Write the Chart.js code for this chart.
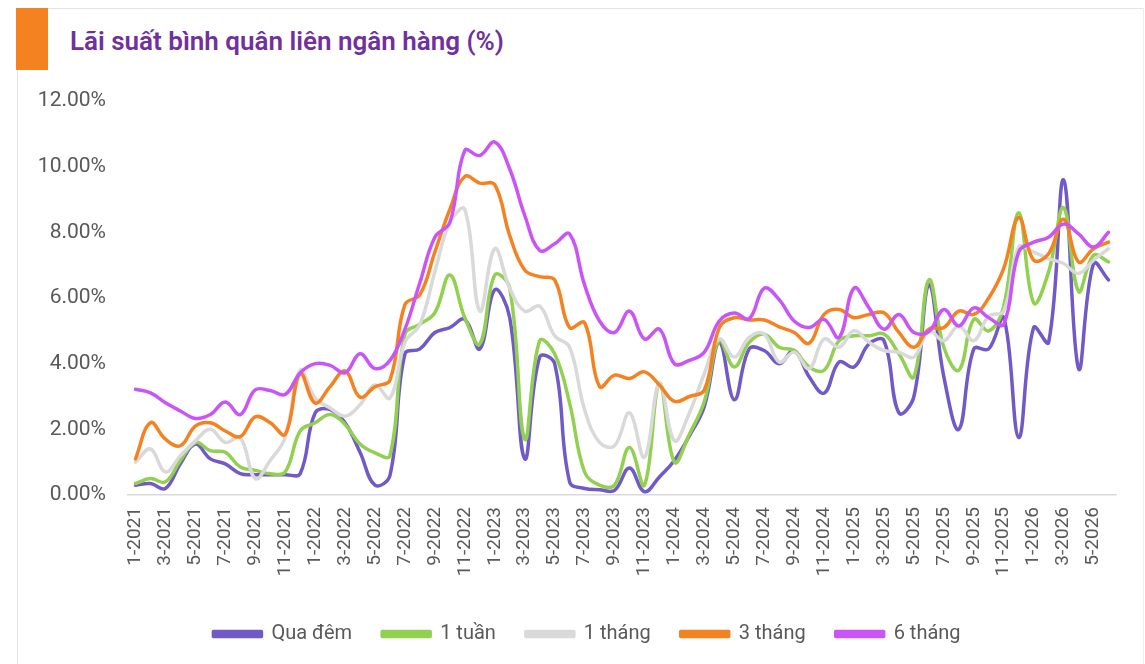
<!DOCTYPE html>
<html>
<head>
<meta charset="utf-8">
<script src="https://cdn.jsdelivr.net/npm/chart.js@4/dist/chart.umd.min.js"></script>
<style>
    body { margin: 0; background: #fff; width: 1145px; height: 664px; overflow: hidden; position: relative; font-family: Roboto, sans-serif; }
    #top-line { position: absolute; left: 48px; top: 8px; width: 1095px; height: 1px; background: #e3e3e3; }
    #left-line { position: absolute; left: 17px; top: 70px; width: 1px; height: 594px; background: #e3e3e3; }
    #right-line { position: absolute; left: 1143px; top: 8px; width: 1px; height: 656px; background: #eeeeee; }
    #orange-box { position: absolute; left: 16px; top: 8px; width: 32px; height: 62px; background: #f58220; }
    #title { position: absolute; left: 70px; top: 26px; font-size: 26px; font-weight: 600; color: #7030a0; }
    #chart-wrap { position: absolute; left: 18px; top: 70px; width: 1125px; height: 594px; }
</style>
</head>
<body>
<div id="top-line"></div>
<div id="left-line"></div>
<div id="right-line"></div>
<div id="orange-box"></div>
<div id="title">Lãi suất bình quân liên ngân hàng (%)</div>
<div id="chart-wrap"><canvas id="rate-chart"></canvas></div>
<script>
// months 1-2021 .. 6-2026
const months = [
    "1-2021", "2-2021", "3-2021", "4-2021", "5-2021", "6-2021", "7-2021", "8-2021", "9-2021", "10-2021", "11-2021", "12-2021",
    "1-2022", "2-2022", "3-2022", "4-2022", "5-2022", "6-2022", "7-2022", "8-2022", "9-2022", "10-2022", "11-2022", "12-2022",
    "1-2023", "2-2023", "3-2023", "4-2023", "5-2023", "6-2023", "7-2023", "8-2023", "9-2023", "10-2023", "11-2023", "12-2023",
    "1-2024", "2-2024", "3-2024", "4-2024", "5-2024", "6-2024", "7-2024", "8-2024", "9-2024", "10-2024", "11-2024", "12-2024",
    "1-2025", "2-2025", "3-2025", "4-2025", "5-2025", "6-2025", "7-2025", "8-2025", "9-2025", "10-2025", "11-2025", "12-2025",
    "1-2026", "2-2026", "3-2026", "4-2026", "5-2026", "6-2026"
];

const quaDem = [
    0.3, 0.35, 0.2, 0.95, 1.55, 1.1, 0.95, 0.65, 0.62, 0.62, 0.62, 0.65,
    2.5, 2.6, 2.2, 1.3, 0.3, 0.6, 4.3, 4.45, 4.95, 5.1, 5.35, 4.45,
    6.25, 5.4, 1.1, 4.2, 4.0, 0.4, 0.2, 0.16, 0.14, 0.82, 0.1, 0.55,
    1.05, 1.8, 2.7, 4.65, 2.9, 4.45, 4.4, 4.0, 4.4, 3.6, 3.1, 4.05,
    3.9, 4.6, 4.7, 2.5, 3.0, 6.4, 3.6, 2.0, 4.45, 4.45, 5.4, 1.75,
    5.1, 4.65, 9.6, 3.85, 7.05, 6.55
];
const motTuan = [
    0.35, 0.5, 0.4, 1.05, 1.6, 1.35, 1.3, 0.85, 0.75, 0.65, 0.7, 1.95,
    2.2, 2.45, 2.15, 1.55, 1.28, 1.2, 4.9, 5.2, 5.55, 6.7, 5.4, 4.6,
    6.7, 6.3, 1.7, 4.7, 4.3, 2.8, 0.7, 0.3, 0.3, 1.45, 0.3, 3.4,
    1.0, 1.85, 2.85, 4.7, 3.9, 4.65, 4.9, 4.5, 4.4, 3.9, 3.8, 4.7,
    4.85, 4.85, 4.9, 4.3, 3.6, 6.55, 4.5, 3.8, 5.35, 5.0, 5.75, 8.6,
    5.85, 6.8, 8.75, 6.2, 7.3, 7.1
];
const motThang = [
    1.0, 1.4, 0.7, 1.2, 1.65, 2.0, 1.6, 1.75, 0.5, 1.05, 1.75, 3.8,
    2.95, 2.65, 2.4, 2.75, 3.35, 2.95, 4.65, 5.2, 6.8, 8.3, 8.7, 5.6,
    7.5, 6.3, 5.6, 5.75, 4.85, 4.5, 2.6, 1.6, 1.5, 2.5, 1.15, 3.4,
    1.65, 2.5, 3.7, 4.75, 4.2, 4.8, 4.9, 4.05, 4.35, 3.85, 4.75, 4.5,
    5.0, 4.65, 4.4, 4.35, 4.2, 5.0, 4.7, 5.15, 4.7, 5.45, 5.6, 7.55,
    7.4, 7.2, 7.05, 6.75, 7.15, 7.5
];
const baThang = [
    1.1, 2.2, 1.7, 1.5, 2.1, 2.2, 1.95, 1.78, 2.38, 2.2, 1.85, 3.7,
    2.8, 3.3, 3.78, 2.98, 3.3, 3.5, 5.8, 6.1, 7.4, 8.7, 9.7, 9.5,
    9.45, 7.9, 6.85, 6.65, 6.55, 5.1, 5.25, 3.3, 3.65, 3.55, 3.75, 3.35,
    2.85, 3.0, 3.2, 5.1, 5.4, 5.33, 5.33, 5.12, 4.95, 4.62, 5.5, 5.65,
    5.4, 5.5, 5.55, 4.95, 4.5, 5.05, 5.1, 5.6, 5.5, 6.0, 6.9, 8.45,
    7.15, 7.35, 8.4, 7.1, 7.5, 7.7
];
const sauThang = [
    3.22, 3.11, 2.81, 2.56, 2.33, 2.45, 2.83, 2.45, 3.2, 3.18, 3.06, 3.72,
    4.0, 3.95, 3.72, 4.3, 3.85, 4.1, 5.05, 6.47, 7.85, 8.3, 10.49, 10.34,
    10.75, 9.93, 8.52, 7.45, 7.65, 7.95, 6.4, 5.3, 4.95, 5.6, 4.75, 5.05,
    4.0, 4.1, 4.35, 5.3, 5.54, 5.37, 6.3, 5.95, 5.3, 5.1, 5.35, 4.8,
    6.3, 5.7, 5.05, 5.5, 4.95, 4.98, 5.65, 5.15, 5.7, 5.4, 5.2, 7.4,
    7.7, 7.85, 8.25, 7.95, 7.55, 8.0
];

const seriesNames = ["Qua đêm", "1 tuần", "1 tháng", "3 tháng", "6 tháng"];
const yTicks = [0, 2, 4, 6, 8, 10, 12];

const colors = ["#7159c8", "#92d050", "#d9d9d9", "#f58220", "#c955f7"];
const allSeries = [quaDem, motTuan, motThang, baThang, sauThang];

const datasets = allSeries.map((vals, i) => ({
    label: seriesNames[i],
    data: vals,
    borderColor: colors[i],
    backgroundColor: colors[i],
    borderWidth: 3.5,
    pointRadius: 0,
    tension: 0.4,
    borderCapStyle: "round",
    borderJoinStyle: "round",
    order: allSeries.length - i,
}));

// nudge the legend a bit to the right, like in the original
const shiftLegend = {
    id: "shiftLegend",
    afterLayout(chart) {
        chart.legend.left += 20;
        chart.legend.right += 20;
    },
};

new Chart(document.getElementById("rate-chart").getContext("2d"), {
    type: "line",
    data: { labels: months, datasets: datasets },
    plugins: [shiftLegend],
    options: {
        responsive: true,
        maintainAspectRatio: false,
        animation: false,
        layout: { padding: { top: 31, right: 27, bottom: 10, left: 0 } },
        plugins: {
            tooltip: { enabled: false },
            legend: {
                position: "bottom",
                labels: {
                    sort: (a, b) => a.datasetIndex - b.datasetIndex,
                    boxWidth: 48,
                    boxHeight: 5,
                    padding: 30,
                    color: "#595959",
                    font: { family: "Roboto", size: 20 },
                },
            },
        },
        scales: {
            x: {
                offset: true,
                grid: { display: false },
                border: { display: true, color: "#d9d9d9", width: 1.5 },
                ticks: {
                    autoSkip: false,
                    minRotation: 90,
                    maxRotation: 90,
                    padding: 4,
                    color: "#595959",
                    font: { family: "Roboto", size: 19 },
                    callback: (v, i) => (i % 2 === 0 ? months[i] : ""),
                },
                afterFit: (s) => { s.height = 99; },
            },
            y: {
                min: 0,
                max: 12,
                grid: { display: false },
                border: { display: false },
                afterBuildTicks: (s) => { s.ticks = yTicks.map((v) => ({ value: v })); },
                ticks: {
                    padding: 14,
                    color: "#595959",
                    font: { family: "Roboto", size: 21 },
                    callback: (v) => v.toFixed(2) + "%",
                },
                afterFit: (s) => { s.width = 110; },
            },
        },
    },
});
</script>
</body>
</html>
